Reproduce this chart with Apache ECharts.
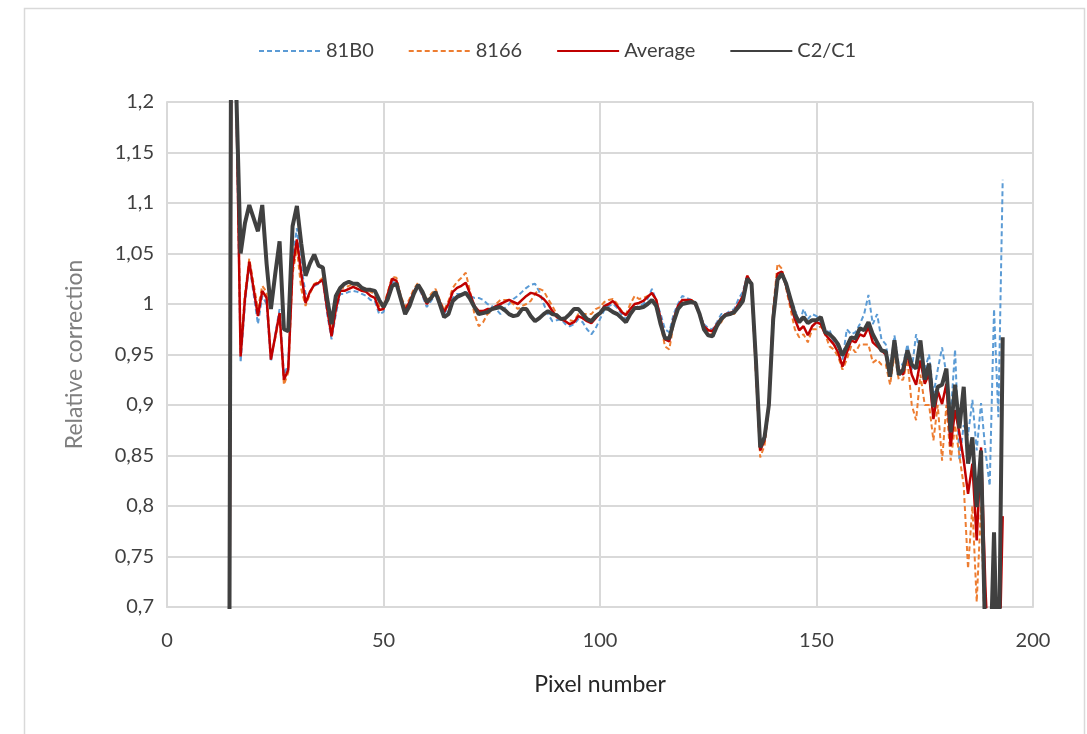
<!DOCTYPE html>
<html>
<head>
<meta charset="utf-8">
<script src="https://cdn.jsdelivr.net/npm/echarts@6/dist/echarts.min.js"></script>
<style>
html,body{margin:0;padding:0;background:#fff;}
#c{width:1087px;height:734px;}
</style>
</head>
<body>
<div id="c"></div>
<script>
const pixels = [
14,15,16,17,18,19,
20,21,22,23,24,25,26,27,28,29,
30,31,32,33,34,35,36,37,38,39,
40,41,42,43,44,45,46,47,48,49,
50,51,52,53,54,55,56,57,58,59,
60,61,62,63,64,65,66,67,68,69,
70,71,72,73,74,75,76,77,78,79,
80,81,82,83,84,85,86,87,88,89,
90,91,92,93,94,95,96,97,98,99,
100,101,102,103,104,105,106,107,108,109,
110,111,112,113,114,115,116,117,118,119,
120,121,122,123,124,125,126,127,128,129,
130,131,132,133,134,135,136,137,138,139,
140,141,142,143,144,145,146,147,148,149,
150,151,152,153,154,155,156,157,158,159,
160,161,162,163,164,165,166,167,168,169,
170,171,172,173,174,175,176,177,178,179,
180,181,182,183,184,185,186,187,188,189,
190,191,192,193];

const s81B0 = [
0.0,1.5,1.2,0.942,1.0,1.04,
1.01,0.98,1.008,1.0,0.943,0.97,0.995,0.93,0.94,1.045,
1.075,1.038,1.01,1.012,1.018,1.02,1.022,0.99,0.965,0.99,
1.01,1.01,1.012,1.013,1.012,1.01,1.008,1.004,1.003,0.99,
0.992,1.007,1.022,1.02,1.003,0.99,0.998,1.01,1.017,1.008,
0.997,1.003,1.01,1.0,0.99,0.997,1.006,1.01,1.01,1.012,
1.008,1.006,1.006,1.004,1.0,0.998,0.995,0.99,0.996,1.0,
1.005,1.008,1.012,1.016,1.019,1.02,1.012,1.0,0.99,0.983,
0.984,0.985,0.98,0.978,0.98,0.985,0.982,0.975,0.97,0.976,
0.985,0.994,0.998,1.0,0.996,0.99,0.985,0.99,0.996,0.998,
1.0,1.005,1.015,1.003,0.99,0.975,0.972,0.99,1.0,1.008,
1.006,1.004,1.0,0.99,0.98,0.976,0.975,0.982,0.99,0.99,
0.993,0.995,1.005,1.012,1.028,1.02,0.95,0.86,0.87,0.9,
0.985,1.025,1.03,1.02,1.005,0.995,0.98,0.995,0.985,0.99,
0.988,0.982,0.97,0.975,0.96,0.958,0.945,0.975,0.97,0.972,
0.98,0.99,1.009,0.98,0.99,0.965,0.96,0.935,0.969,0.94,
0.94,0.96,0.935,0.97,0.95,0.935,0.95,0.91,0.935,0.957,
0.93,0.89,0.955,0.845,0.88,0.87,0.905,0.855,0.902,0.855,
0.82,0.995,0.888,1.123];

const s8166 = [
0.0,1.5,1.22,0.955,1.01,1.045,
1.02,0.995,1.018,1.012,0.948,0.966,0.988,0.92,0.932,1.03,
1.055,1.015,0.998,1.01,1.02,1.022,1.026,1.0,0.972,1.0,
1.016,1.016,1.018,1.02,1.018,1.016,1.015,1.012,1.01,0.998,
0.998,1.012,1.027,1.026,1.008,0.997,1.005,1.015,1.021,1.012,
1.003,1.01,1.015,1.004,0.994,1.003,1.016,1.022,1.026,1.031,
1.012,0.99,0.978,0.982,0.99,0.993,1.0,1.004,1.004,1.004,
1.0,0.995,0.998,1.0,1.003,1.01,1.015,1.013,1.005,0.998,
0.99,0.985,0.986,0.984,0.983,0.99,0.99,0.99,0.99,0.995,
0.997,1.002,1.004,1.005,1.0,0.993,0.99,1.0,1.008,1.005,
1.006,1.008,1.01,1.004,0.98,0.958,0.955,0.98,0.996,1.0,
1.003,1.005,1.0,0.99,0.976,0.972,0.97,0.978,0.982,0.99,
0.99,0.99,0.998,1.005,1.028,1.02,0.93,0.848,0.86,0.9,
0.995,1.04,1.035,1.015,0.995,0.975,0.967,0.97,0.962,0.975,
0.975,0.978,0.97,0.958,0.955,0.948,0.935,0.945,0.958,0.952,
0.96,0.96,0.96,0.942,0.945,0.94,0.94,0.92,0.95,0.925,
0.925,0.945,0.9,0.885,0.93,0.9,0.9,0.865,0.9,0.845,
0.9,0.845,0.88,0.85,0.82,0.738,0.8,0.705,0.8,0.65,
0.55,0.6,0.5,0.46];

const sAverage = [
0.0,1.5,1.21,0.948,1.005,1.042,
1.015,0.988,1.013,1.006,0.945,0.968,0.991,0.925,0.935,1.036,
1.064,1.03,1.001,1.012,1.019,1.021,1.024,0.995,0.968,0.995,
1.013,1.013,1.015,1.017,1.015,1.013,1.012,1.008,1.006,0.994,
0.995,1.01,1.025,1.023,1.005,0.994,1.002,1.012,1.019,1.01,
1.0,1.006,1.012,1.002,0.992,1.0,1.012,1.016,1.018,1.021,
1.01,0.998,0.993,0.993,0.995,0.995,0.998,1.0,1.002,1.004,
1.002,1.0,1.004,1.008,1.011,1.01,1.008,1.005,1.0,0.993,
0.987,0.985,0.983,0.98,0.982,0.988,0.986,0.983,0.981,0.986,
0.991,0.998,1.0,1.003,0.998,0.992,0.989,0.995,1.0,1.001,
1.003,1.007,1.011,1.004,0.985,0.965,0.963,0.985,0.998,1.004,
1.004,1.004,1.0,0.99,0.978,0.974,0.973,0.98,0.986,0.99,
0.991,0.993,1.0,1.008,1.028,1.02,0.94,0.855,0.865,0.9,
0.99,1.03,1.032,1.018,1.0,0.985,0.974,0.978,0.969,0.978,
0.982,0.98,0.97,0.965,0.96,0.952,0.938,0.952,0.964,0.962,
0.97,0.968,0.977,0.962,0.958,0.954,0.95,0.93,0.96,0.935,
0.93,0.951,0.93,0.92,0.944,0.921,0.931,0.886,0.914,0.901,
0.921,0.859,0.895,0.872,0.845,0.812,0.842,0.766,0.858,0.72,
0.62,0.65,0.6,0.79];

const sC2C1 = [
0.0,1.6,1.21,1.05,1.08,1.098,
1.085,1.072,1.098,1.04,0.995,1.03,1.062,0.975,0.973,1.077,
1.097,1.06,1.028,1.04,1.049,1.038,1.036,1.005,0.98,1.008,
1.016,1.02,1.022,1.02,1.02,1.016,1.014,1.014,1.013,1.004,
0.997,1.005,1.018,1.02,1.005,0.99,0.998,1.01,1.019,1.012,
1.002,1.006,1.012,1.0,0.987,0.99,1.003,1.007,1.009,1.011,
1.005,0.997,0.99,0.991,0.992,0.995,0.996,0.997,0.994,0.99,
0.988,0.989,0.995,0.995,0.988,0.983,0.986,0.99,0.993,0.99,
0.989,0.985,0.986,0.99,0.995,0.995,0.99,0.985,0.983,0.988,
0.991,0.996,0.995,0.992,0.99,0.986,0.982,0.99,0.996,0.996,
0.997,1.0,1.004,0.998,0.98,0.966,0.966,0.982,0.995,1.0,
1.001,1.002,1.001,0.99,0.975,0.969,0.968,0.978,0.985,0.989,
0.99,0.992,0.997,1.003,1.025,1.02,0.945,0.858,0.868,0.9,
0.985,1.024,1.03,1.02,1.005,0.99,0.982,0.987,0.981,0.984,
0.984,0.987,0.972,0.97,0.966,0.96,0.949,0.958,0.967,0.966,
0.976,0.974,0.982,0.97,0.962,0.954,0.953,0.928,0.964,0.93,
0.935,0.954,0.94,0.936,0.964,0.925,0.941,0.898,0.918,0.92,
0.936,0.873,0.92,0.877,0.918,0.842,0.868,0.799,0.855,0.66,
0.62,0.774,0.6,0.967];

const seriesNames = ['81B0','8166','Average','C2/C1'];
const xTicks = {min:0, max:200, interval:50};
const yTicks = {min:0.7, max:1.2, interval:0.05};

function pairs(vals){ return pixels.map((p,i)=>[p, vals[i]]); }

const FONT = 'Lato, "Open Sans", sans-serif';
const chart = echarts.init(document.getElementById('c'));
chart.setOption({
  animation:false,
  backgroundColor:'#fff',
  graphic:[{type:'rect', shape:{x:24.5,y:8.5,width:1060,height:740}, style:{fill:'none', stroke:'#d9d9d9', lineWidth:1.5}, silent:true}],
  legend:{
    left:253, top:36, itemWidth:62, itemHeight:14, itemGap:34,
    itemStyle:{opacity:0},
    textStyle:{fontFamily:FONT, fontSize:20, color:'#404040'},
    data:seriesNames
  },
  grid:{left:167, right:54, top:102, bottom:127},
  xAxis:{
    type:'value', min:xTicks.min, max:xTicks.max, interval:xTicks.interval,
    name:'Pixel number', nameLocation:'middle', nameGap:66,
    nameTextStyle:{fontFamily:FONT, fontSize:23, color:'#262626'},
    axisLine:{show:true, lineStyle:{color:'#d9d9d9', width:2}},
    axisTick:{show:false},
    axisLabel:{fontFamily:FONT, fontSize:20, color:'#404040', margin:24},
    splitLine:{show:true, lineStyle:{color:'#d9d9d9', width:2}}
  },
  yAxis:{
    type:'value', min:yTicks.min, max:yTicks.max, interval:yTicks.interval,
    name:'Relative correction', nameLocation:'middle', nameGap:81,
    nameTextStyle:{fontFamily:FONT, fontSize:23, color:'#7f7f7f'},
    axisLine:{show:true, lineStyle:{color:'#d9d9d9', width:2}},
    axisTick:{show:false},
    axisLabel:{fontFamily:FONT, fontSize:20, color:'#404040', margin:13,
      formatter:v=>String(parseFloat(v.toFixed(2))).replace('.',',')},
    splitLine:{show:true, lineStyle:{color:'#d9d9d9', width:2}}
  },
  series:[
    {name:seriesNames[0], type:'line', data:pairs(s81B0), symbol:'none', clip:true,
     lineStyle:{color:'#5b9bd5', width:2, type:[5,3]}, itemStyle:{color:'#5b9bd5'}},
    {name:seriesNames[1], type:'line', data:pairs(s8166), symbol:'none', clip:true,
     lineStyle:{color:'#ed7d31', width:2, type:[5,3]}, itemStyle:{color:'#ed7d31'}},
    {name:seriesNames[2], type:'line', data:pairs(sAverage), symbol:'none', clip:true,
     lineStyle:{color:'#c00000', width:2.5}, itemStyle:{color:'#c00000'}},
    {name:seriesNames[3], type:'line', data:pairs(sC2C1), symbol:'none', clip:true,
     lineStyle:{color:'#404040', width:4}, itemStyle:{color:'#404040'}}
  ]
});
</script>
</body>
</html>
